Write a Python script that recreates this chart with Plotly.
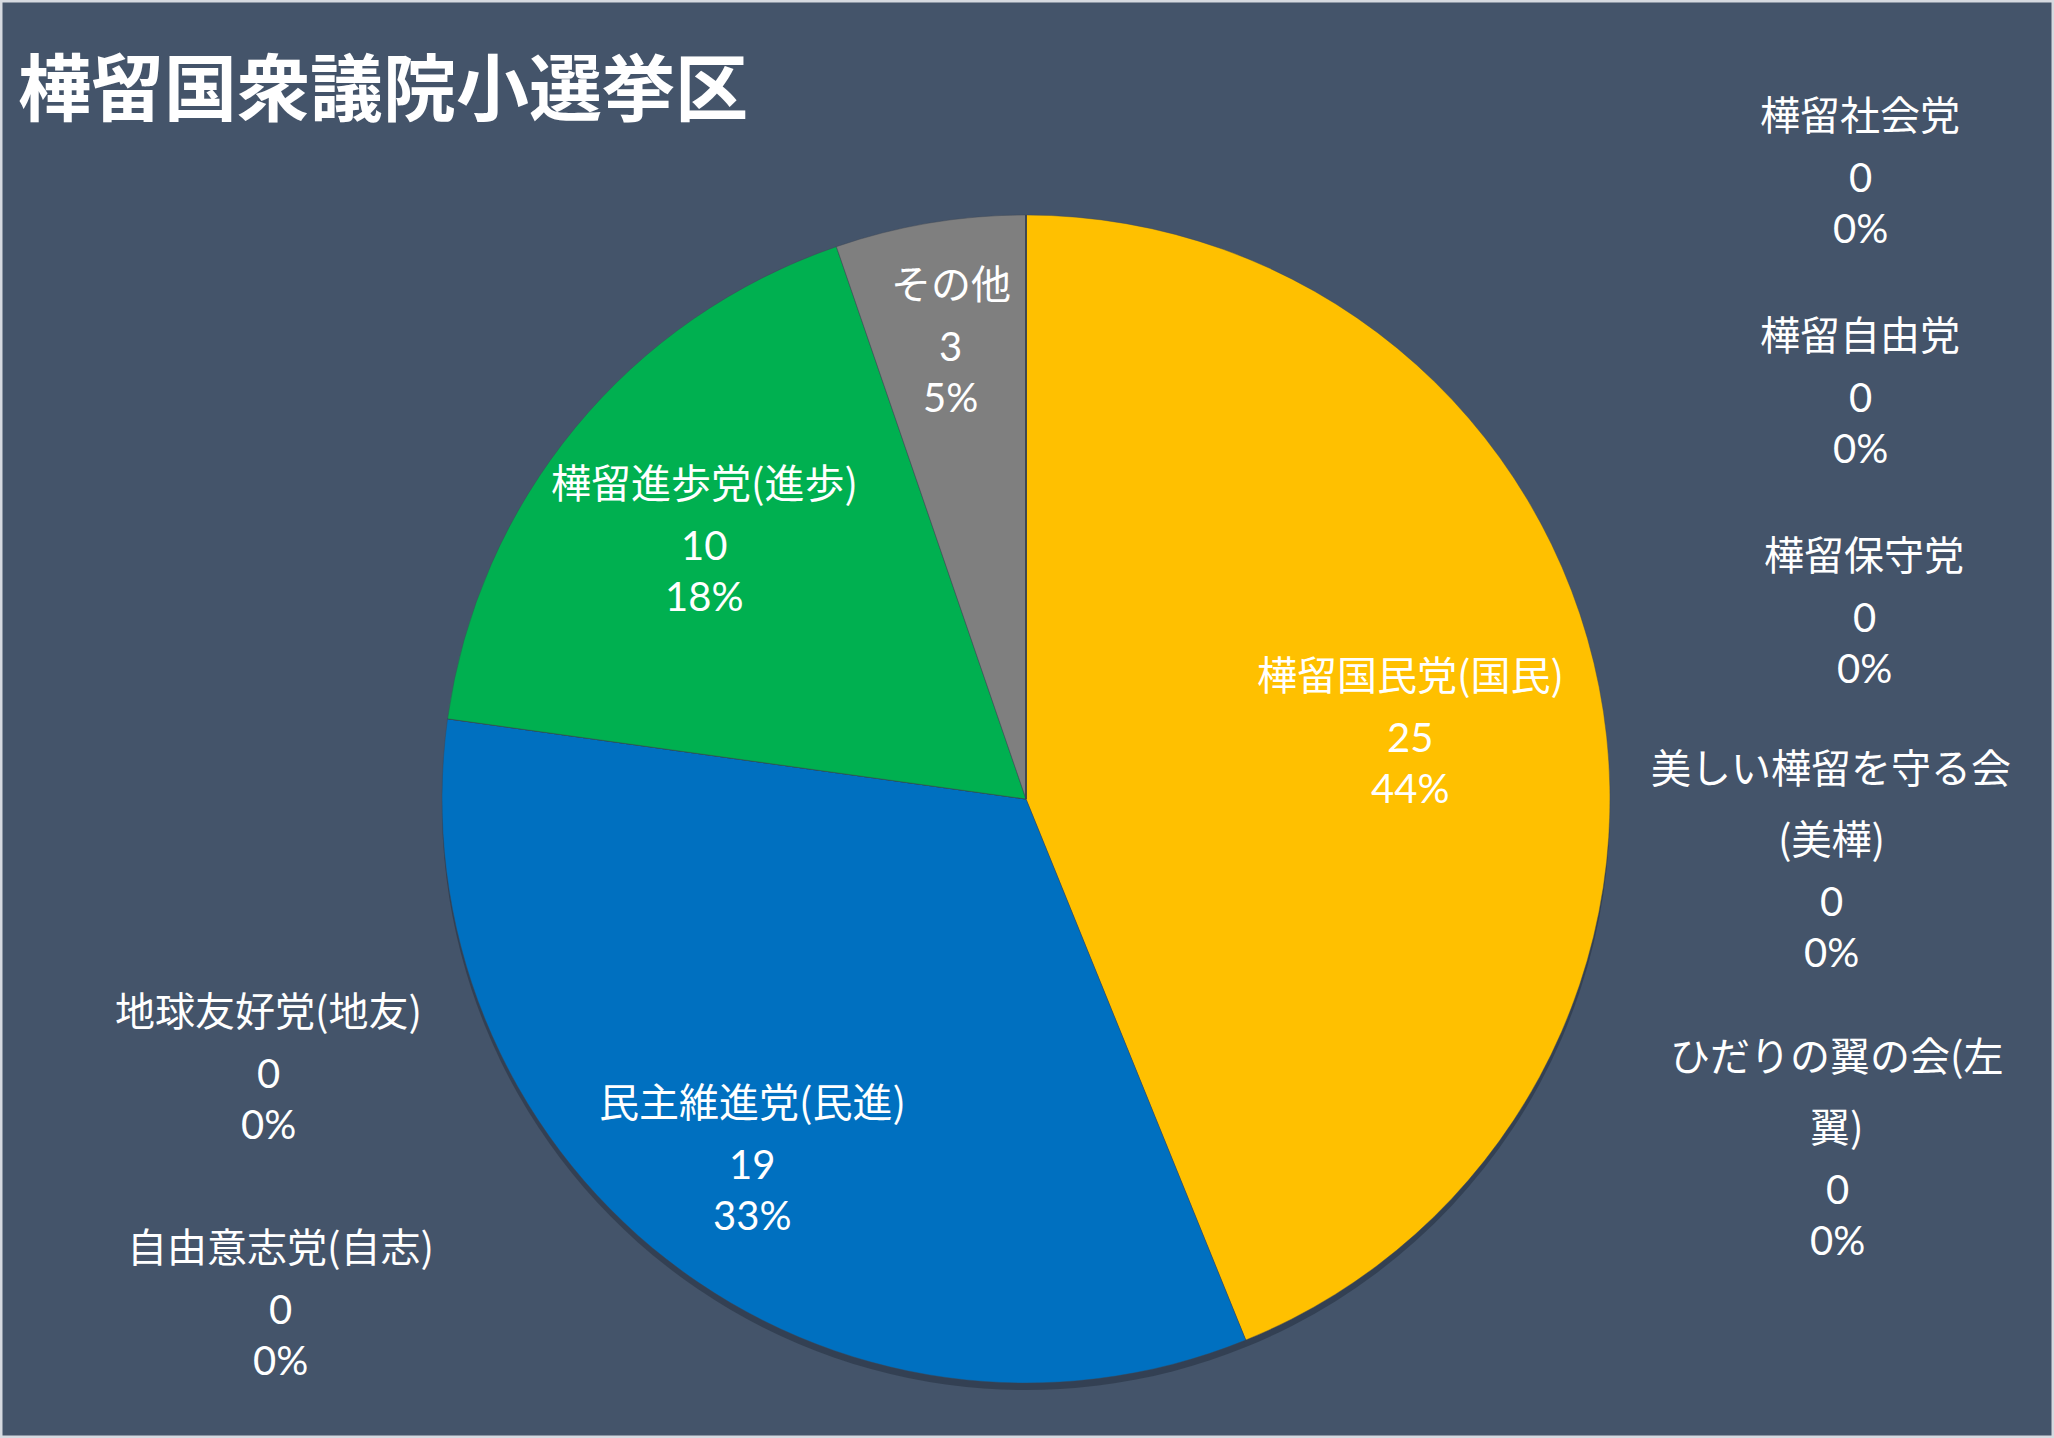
import math
import plotly.graph_objects as go

# ---------------- data ----------------
title_text = "樺留国衆議院小選挙区"
parties = [
    "樺留国民党(国民)",
    "民主維進党(民進)",
    "自由意志党(自志)",
    "地球友好党(地友)",
    "樺留進歩党(進歩)",
    "その他",
    "樺留社会党",
    "樺留自由党",
    "樺留保守党",
    "美しい樺留を守る会(美樺)",
    "ひだりの翼の会(左翼)",
]
seats = [25, 19, 0, 0, 10, 3, 0, 0, 0, 0, 0]
slice_colors = ["#FFC000", "#0070C0", "#A5A5A5", "#4472C4", "#00B050", "#7F7F7F",
                "#264478", "#9E480E", "#636363", "#997300", "#255E91"]

# ---------------- layout / label placement (not data) ----------------
W, H = 2054, 1438
CX, CY, R = 1026, 799, 584
BG = "#44546A"
FONT = "Noto Sans CJK JP"
NUM_FONT = "Lato"
# how names wrap in the original labels
name_lines = {
    "美しい樺留を守る会(美樺)": ["美しい樺留を守る会", "(美樺)"],
    "ひだりの翼の会(左翼)": ["ひだりの翼の会(左", "翼)"],
}
# inside labels: radial position (fraction of radius) along the slice mid-angle,
# plus a small pixel nudge
inside_r = {0: 0.665, 1: 0.78, 4: 0.70, 5: 0.785}
inside_nudge = {0: (3, 12), 1: (6, 6), 4: (-6, 6), 5: (0, -1)}
# labels of empty slices: pixel position of the value line centre
outside_pos = {
    2: (280, 1309),
    3: (268, 1073),
    6: (1860, 177),
    7: (1860, 397),
    8: (1864, 617),
    9: (1831, 901),
    10: (1837, 1189),
}
GLOBAL_DY = -3
NUM_DY = 3

fig = go.Figure()

# soft shadow under the pie
sh = 7
fig.add_trace(go.Pie(
    labels=parties, values=seats, sort=False, direction="clockwise", rotation=0,
    marker=dict(colors=["rgba(20,28,40,0.35)"] * len(seats), line=dict(width=0)),
    textinfo="none", hoverinfo="skip", showlegend=False,
    domain=dict(x=[(CX - R) / W, (CX + R) / W],
                y=[(H - CY - sh - R) / H, (H - CY - sh + R) / H]),
))

fig.add_trace(go.Pie(
    labels=parties, values=seats, sort=False, direction="clockwise", rotation=0,
    marker=dict(colors=slice_colors, line=dict(width=0.6, color="rgba(60,70,85,0.7)")),
    textinfo="none", showlegend=False,
    domain=dict(x=[(CX - R) / W, (CX + R) / W],
                y=[(H - CY - R) / H, (H - CY + R) / H]),
))

annotations = []


def add_text(text, px, py, family=FONT, size=40):
    annotations.append(dict(
        text=text, x=px / W, y=1 - py / H, xref="paper", yref="paper",
        xanchor="center", yanchor="middle", showarrow=False,
        font=dict(family=family, size=size, color="white"),
    ))


total = sum(seats)
cum = 0
for i, (name, v) in enumerate(zip(parties, seats)):
    mid = (cum + v / 2) / total * 2 * math.pi
    cum += v
    if i in inside_r:
        r = inside_r[i] * R
        ndx, ndy = inside_nudge[i]
        vx = CX + r * math.sin(mid) + ndx
        vy = CY - r * math.cos(mid) + ndy
    else:
        vx, vy = outside_pos[i]
    vy += GLOBAL_DY
    pct = f"{round(v / total * 100)}%"
    lines = name_lines.get(name, [name])
    # name lines above the value line
    for k, ln in enumerate(reversed(lines)):
        add_text(ln, vx, vy - 61 - 71 * k)
    add_text(str(v), vx, vy + NUM_DY, family=NUM_FONT)
    add_text(pct, vx, vy + 51 + NUM_DY, family=NUM_FONT)

# title
annotations.append(dict(
    text=title_text, x=16 / W, y=1 - 83 / H, xref="paper", yref="paper",
    xanchor="left", yanchor="middle", showarrow=False,
    font=dict(family=FONT, size=73, color="white", weight="bold"),
))

fig.update_layout(
    width=W, height=H,
    margin=dict(l=0, r=0, t=0, b=0),
    paper_bgcolor=BG, plot_bgcolor=BG,
    annotations=annotations,
    shapes=[dict(type="rect", xref="paper", yref="paper", x0=0, y0=0, x1=1, y1=1,
                 line=dict(color="#D6DAE0", width=5), fillcolor="rgba(0,0,0,0)")],
)

fig.write_html("out.html", config={"displayModeBar": False})
